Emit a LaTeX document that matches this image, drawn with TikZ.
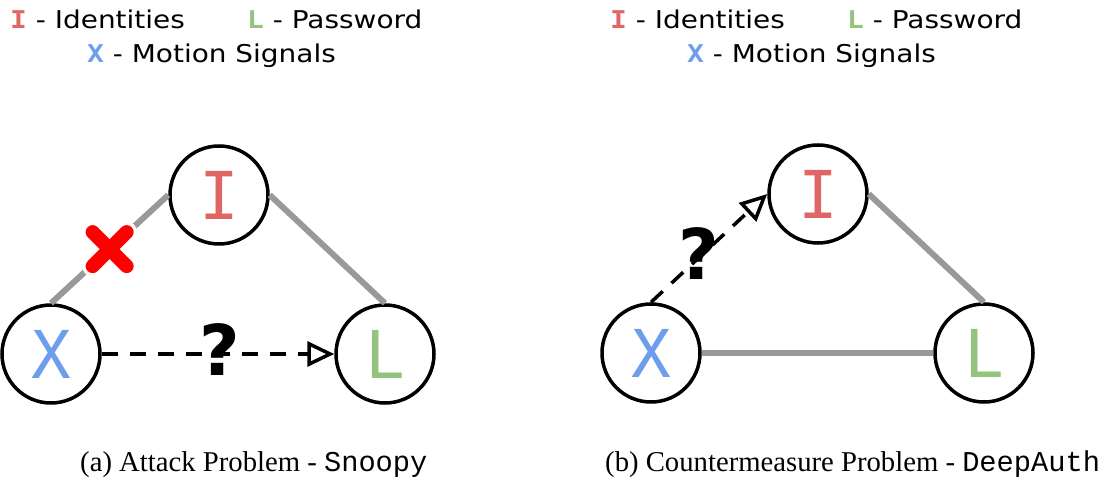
\documentclass[tikz,border=0pt]{standalone}
\usepackage{fontspec}
\setmainfont{Liberation Serif}
\newfontfamily\legfont{DejaVu Sans}
\newfontfamily\symfont{DejaVu Sans Mono}
\newfontfamily\codefont{Liberation Mono}
\newfontfamily\qfont{DejaVu Sans}
\usetikzlibrary{arrows.meta,calc}
\definecolor{cI}{HTML}{E06666}
\definecolor{cL}{HTML}{93C47D}
\definecolor{cX}{HTML}{6D9EEB}
\definecolor{edgegray}{HTML}{999999}
\tikzset{
  vtx/.style={circle,draw=black,line width=3.5pt,minimum size=98pt,inner sep=0pt,
    font=\symfont\fontsize{66}{66}\selectfont},
  link/.style={draw=edgegray,line width=6pt},
  query/.style={draw=black,line width=3.5pt,dash pattern=on 16pt off 12pt,
    -{Triangle[open,length=27pt 0 0,width=25pt 0 0,line width=3.5pt]}},
  qmark/.style={font=\qfont\bfseries\fontsize{70}{70}\selectfont,inner sep=0pt},
  legend/.style={anchor=base west,inner sep=0pt,xscale=1.14,
    font=\legfont\fontsize{24.5}{24.5}\selectfont},
  caption/.style={anchor=base west,inner sep=0pt,font=\fontsize{28.7}{28.7}\selectfont},
}
\newcommand{\keyI}{{\symfont\bfseries\color{cI}I}}
\newcommand{\keyL}{{\symfont\bfseries\color{cL}L}}
\newcommand{\keyX}{{\symfont\bfseries\color{cX}X}}
\begin{document}
\begin{tikzpicture}[x=1pt,y=-1pt]
\useasboundingbox (0,0) rectangle (1114,478);

% ---------- (a) attack problem ----------
\node[legend] (aleg1) at (10,29) {\keyI{} - Identities};
\node[legend] (aleg2) at (247,29) {\keyL{} - Password};
\node[legend] (aleg3) at (87,63) {\keyX{} - Motion Signals};

\node[vtx,text=cI] (aI) at (219,195) {I};
\node[vtx,text=cX] (aX) at (51,354) {X};
\node[vtx,text=cL] (aL) at (385,354) {L};

\draw[link] (aX.north) -- (aI.west);
\draw[link] (aI.east) -- (aL.north);
\draw[query] (aX.east) -- (aL.west);
\node[qmark] (aq) at (219.5,350) {?};

% broken link marker
\coordinate (cross) at ($(aX.north)!0.5!(aI.west)$);
\draw[white,line width=21pt,line cap=round]
  ($(cross)+(-17,-17)$) -- ($(cross)+(17,17)$)
  ($(cross)+(-17,17)$) -- ($(cross)+(17,-17)$);
\draw[red,line width=14pt,line cap=round]
  ($(cross)+(-17,-17)$) -- ($(cross)+(17,17)$)
  ($(cross)+(-17,17)$) -- ($(cross)+(17,-17)$);

\node[caption] (acap) at (80,471) {(a) Attack Problem - {\codefont Snoopy}};

% ---------- (b) countermeasure problem ----------
\node[legend] (bleg1) at (610,29) {\keyI{} - Identities};
\node[legend] (bleg2) at (847,29) {\keyL{} - Password};
\node[legend] (bleg3) at (687,63) {\keyX{} - Motion Signals};

\node[vtx,text=cI] (bI) at (818,194) {I};
\node[vtx,text=cX] (bX) at (651,353) {X};
\node[vtx,text=cL] (bL) at (984,353) {L};

\draw[link] (bX.east) -- (bL.west);
\draw[link] (bI.east) -- (bL.north);
\draw[query] (bX.north) -- (bI.west);
\node[qmark] (bq) at (699,254) {?};

\node[caption] (bcap) at (605,471) {(b) Countermeasure Problem - {\codefont DeepAuth}};
\end{tikzpicture}
\end{document}
